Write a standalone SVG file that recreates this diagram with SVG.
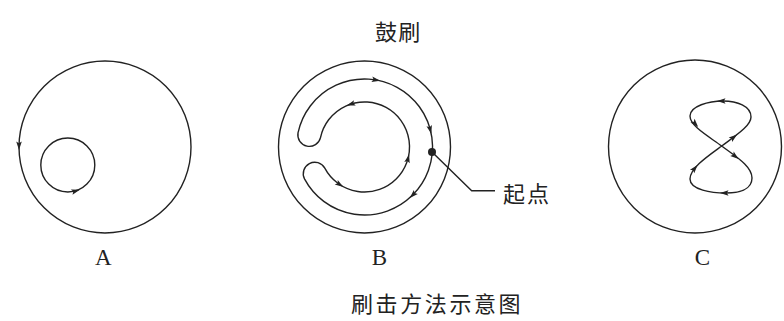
<svg xmlns="http://www.w3.org/2000/svg" xmlns:xlink="http://www.w3.org/1999/xlink" width="784" height="321" viewBox="0 0 784 321">
<defs>
<style>
.ln{fill:none;stroke:#222;stroke-width:1.4}
.ah{fill:#222}
.cjk{font-family:"Noto Sans CJK SC","Noto Sans CJK JP",sans-serif;font-size:22px;fill:#222}
.lat{font-family:"Liberation Serif",serif;font-size:23px;fill:#222;text-anchor:middle}
</style>
<path id="ah" d="M4,0 L-4.5,-2.8 L-2.8,0 L-4.5,2.8 Z"/>
</defs>
<rect width="784" height="321" fill="#fff"/>
<text class="cjk" x="375" y="40" letter-spacing="1.3">鼓刷</text>

<g id="figA">
<circle class="ln" cx="105" cy="147" r="86"/>
<circle class="ln" cx="67.8" cy="165" r="27"/>
<use href="#ah" class="ah" transform="translate(19,146) rotate(90)"/>
<use href="#ah" class="ah" transform="translate(76,190.8) rotate(-17)"/>
<text class="lat" x="103.3" y="264.5">A</text>
</g>

<g id="figB">
<circle class="ln" cx="364.5" cy="147" r="86"/>
<path class="ln" d="M298,132.9 A68,68 0 1 1 304.5,178.9 A11.5,11.5 0 0 1 324.8,168.1 A45,45 0 1 0 320.5,137.6 A11.5,11.5 0 0 1 298,132.9 Z"/>
<use href="#ah" class="ah" transform="translate(376.3,80) rotate(10)"/>
<use href="#ah" class="ah" transform="translate(430.3,130) rotate(75.5)"/>
<use href="#ah" class="ah" transform="translate(412.6,195.1) rotate(135)"/>
<use href="#ah" class="ah" transform="translate(340,184.7) rotate(33)"/>
<use href="#ah" class="ah" transform="translate(408.1,158.3) rotate(-75.5)"/>
<use href="#ah" class="ah" transform="translate(350.6,104.2) rotate(162)"/>
<circle cx="432" cy="152" r="4" fill="#222"/>
<text class="lat" x="379.5" y="264.5">B</text>
</g>

<g id="label-start">
<polyline class="ln" points="432,152 471.7,190.7 495,190.7"/>
<text class="cjk" x="503" y="201.5" letter-spacing="2">起点</text>
</g>

<g id="figC">
<circle class="ln" cx="695" cy="146.5" r="86.5"/>
<path class="ln" d="M721.7,146 C735,156 752,166 752,178 C752,190 738,193 726,193 C712,193 690,190 690,179 C690,168 708,156 721.7,146 C735,136 751,126 751,117 C751,106 737,101 723,101 C709,101 690,106 690,116 C690,126 708,136 721.7,146 Z"/>
<use href="#ah" class="ah" transform="translate(721,101) rotate(180)"/>
<use href="#ah" class="ah" transform="translate(695.5,124) rotate(48)"/>
<use href="#ah" class="ah" transform="translate(735.5,156.5) rotate(38)"/>
<use href="#ah" class="ah" transform="translate(724,193) rotate(180)"/>
<use href="#ah" class="ah" transform="translate(695,168) rotate(-50)"/>
<use href="#ah" class="ah" transform="translate(734,137) rotate(-37)"/>
<text class="lat" x="702.3" y="264.5">C</text>
</g>

<text class="cjk" x="351" y="312" letter-spacing="2.6">刷击方法示意图</text>
</svg>
